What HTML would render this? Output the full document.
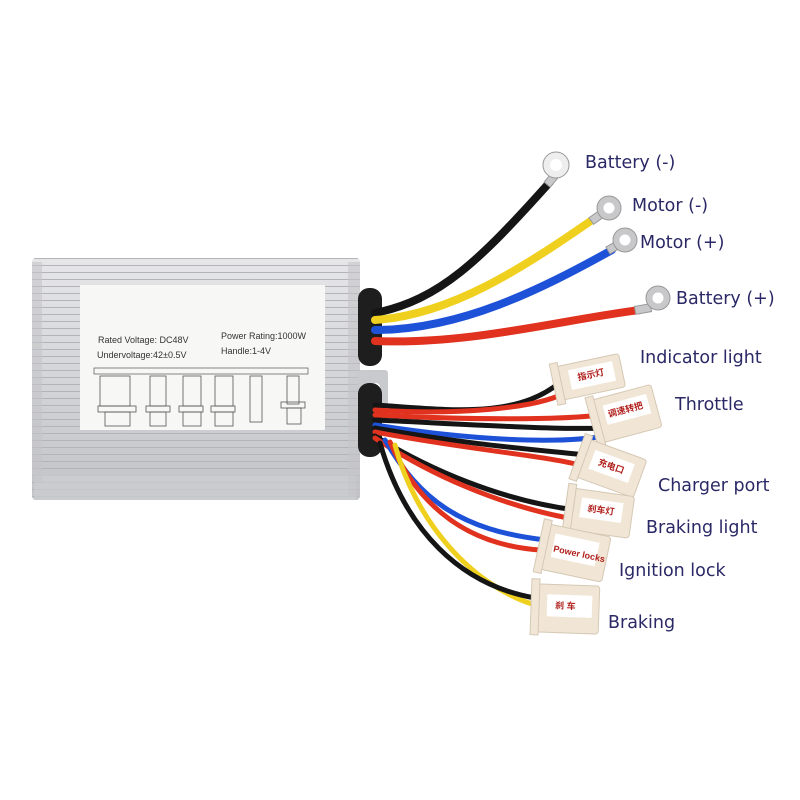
<!DOCTYPE html>
<html><head><meta charset="utf-8"><style>
html,body{margin:0;padding:0;background:#fff}
svg{display:block}
.t{font-family:"DejaVu Sans","Liberation Sans",sans-serif;fill:#2a2966;font-size:17.5px}
.s{font-family:"Liberation Sans",sans-serif;fill:#333;font-size:9px}
.c{font-family:"Liberation Sans","Noto Sans CJK SC",sans-serif;fill:#b0201c;font-size:9px;font-weight:bold}
</style></head><body>
<svg width="800" height="800" viewBox="0 0 800 800">
<defs>
<linearGradient id="al" x1="0" y1="0" x2="0" y2="1">
<stop offset="0" stop-color="#e6e6e8"/><stop offset="0.5" stop-color="#d4d5d8"/><stop offset="1" stop-color="#c2c3c6"/>
</linearGradient>
<pattern id="fin" width="8" height="7" patternUnits="userSpaceOnUse">
<rect width="8" height="7" fill="none"/><line x1="0" y1="6.5" x2="8" y2="6.5" stroke="#b3b4b8" stroke-width="1"/>
</pattern>
</defs>
<rect x="32" y="258" width="328" height="242" rx="4" fill="url(#al)"/>
<rect x="32" y="258" width="328" height="242" rx="4" fill="url(#fin)"/>
<rect x="34" y="475" width="322" height="25" fill="#cfd0d3" opacity="0.6"/>
<rect x="32" y="262" width="10" height="220" fill="#c4c5c8" opacity="0.6"/>
<rect x="348" y="262" width="12" height="235" fill="#c4c5c8" opacity="0.6"/>
<rect x="80" y="285" width="245" height="145" fill="#f7f7f5"/>
<text class="s" x="98" y="343" font-size="10.5">Rated Voltage: DC48V</text>
<text class="s" x="97" y="358" font-size="10.5">Undervoltage:42±0.5V</text>
<text class="s" x="221" y="339" font-size="10.5">Power Rating:1000W</text>
<text class="s" x="221" y="354" font-size="10.5">Handle:1-4V</text>
<rect x="94" y="368" width="214" height="6" fill="none" stroke="#555" stroke-width="0.7"/>
<g fill="none" stroke="#555" stroke-width="0.8">
<rect x="100" y="376" width="30" height="30"/><rect x="98" y="406" width="38" height="6"/><rect x="105" y="412" width="25" height="14"/>
<rect x="150" y="376" width="16" height="30"/><rect x="146" y="406" width="24" height="6"/><rect x="150" y="412" width="16" height="14"/>
<rect x="183" y="376" width="18" height="30"/><rect x="179" y="406" width="24" height="6"/><rect x="183" y="412" width="18" height="14"/>
<rect x="215" y="376" width="18" height="30"/><rect x="211" y="406" width="24" height="6"/><rect x="215" y="412" width="18" height="14"/>
<rect x="250" y="376" width="12" height="46"/>
<rect x="287" y="376" width="12" height="28"/><rect x="281" y="402" width="24" height="6"/><rect x="287" y="408" width="14" height="16"/>
</g>
<rect x="358" y="370" width="30" height="40" fill="#c9cacd" rx="3"/>
<rect x="368" y="383" width="12" height="8" rx="4" fill="#fff"/>
<rect x="358" y="288" width="24" height="78" rx="11" fill="#1e1e1e"/>
<rect x="358" y="383" width="24" height="74" rx="11" fill="#1e1e1e"/>
<g fill="none" stroke-linecap="round" stroke-width="8">
<path d="M375,313 C440,300 480,260 550,182" stroke="#151515"/>
<path d="M375,320 C450,315 520,270 595,218" stroke="#f0d01e"/>
<path d="M375,330 C460,330 540,290 612,250" stroke="#1d52d8"/>
<path d="M375,341 C470,345 560,320 640,310" stroke="#e0321e"/>
</g>
<g fill="#c8c8ca" stroke="#999" stroke-width="1">
<rect x="545" y="176" width="12" height="8" transform="rotate(-50 551 180)"/>
<circle cx="556" cy="165" r="13" fill="#eee"/>
<rect x="590" y="213" width="14" height="8" transform="rotate(-35 597 217)"/>
<circle cx="609" cy="208" r="12"/>
<rect x="607" y="243" width="14" height="8" transform="rotate(-30 614 247)"/>
<circle cx="625" cy="240" r="12"/>
<rect x="635" y="305" width="16" height="8" transform="rotate(-10 643 309)"/>
<circle cx="658" cy="298" r="12"/>
</g>
<g fill="#fff"><circle cx="556" cy="165" r="6"/><circle cx="609" cy="208" r="5.5"/><circle cx="625" cy="240" r="5.5"/><circle cx="658" cy="298" r="5.5"/></g>
<g fill="none" stroke-linecap="round" stroke-width="5">
<path d="M375,405 C450,410 520,420 565,378" stroke="#151515"/>
<path d="M375,410 C450,415 540,410 570,390" stroke="#e0321e"/>
<path d="M375,415 C470,420 560,420 600,415" stroke="#e0321e"/>
<path d="M375,420 C480,425 560,430 605,428" stroke="#151515"/>
<path d="M375,425 C470,440 560,445 610,435" stroke="#1d52d8"/>
<path d="M375,428 C470,445 540,450 585,455" stroke="#151515"/>
<path d="M375,432 C470,450 540,455 580,465" stroke="#e0321e"/>
<path d="M375,436 C430,470 500,500 575,510" stroke="#151515"/>
<path d="M375,438 C430,475 500,505 568,518" stroke="#e0321e"/>
<path d="M385,440 C420,500 460,530 545,540" stroke="#1d52d8"/>
<path d="M390,442 C420,510 470,545 540,550" stroke="#e0321e"/>
<path d="M395,445 C415,520 470,585 535,605" stroke="#f0d01e"/>
<path d="M380,443 C405,530 460,585 535,598" stroke="#151515"/>
</g>
<g fill="#f1e6d6" stroke="#d5c8b4" stroke-width="1">
<g transform="rotate(-12 590 378)"><rect x="558" y="360" width="65" height="34" rx="3"/><rect x="553" y="356" width="8" height="42"/><rect x="570" y="366" width="45" height="20" fill="#fff" stroke="none"/><text class="c" x="578" y="378" stroke="none">指示灯</text></g>
<g transform="rotate(-15 625 412)"><rect x="595" y="392" width="62" height="44" rx="3"/><rect x="590" y="388" width="8" height="52"/><rect x="605" y="400" width="45" height="20" fill="#fff" stroke="none"/><text class="c" x="608" y="413" stroke="none">调速转把</text></g>
<g transform="rotate(20 610 468)"><rect x="580" y="448" width="62" height="40" rx="3"/><rect x="575" y="444" width="8" height="48"/><rect x="590" y="456" width="42" height="20" fill="#fff" stroke="none"/><text class="c" x="597" y="469" stroke="none">充电口</text></g>
<g transform="rotate(8 600 513)"><rect x="570" y="492" width="62" height="42" rx="3"/><rect x="565" y="488" width="8" height="50"/><rect x="580" y="500" width="42" height="20" fill="#fff" stroke="none"/><text class="c" x="587" y="513" stroke="none">刹车灯</text></g>
<g transform="rotate(12 575 553)"><rect x="543" y="530" width="64" height="46" rx="3"/><rect x="538" y="526" width="8" height="54"/><rect x="552" y="538" width="45" height="24" fill="#fff" stroke="none"/><text class="c" x="553" y="556" stroke="none" font-size="8">Power locks</text></g>
<g transform="rotate(2 568 608)"><rect x="537" y="585" width="62" height="48" rx="3"/><rect x="531" y="580" width="8" height="56"/><rect x="547" y="595" width="45" height="22" fill="#fff" stroke="none"/><text class="c" x="555" y="609" stroke="none">刹 车</text></g>
</g>
<text class="t" x="585" y="168">Battery (-)</text>
<text class="t" x="632" y="211">Motor (-)</text>
<text class="t" x="640" y="248">Motor (+)</text>
<text class="t" x="676" y="304">Battery (+)</text>
<text class="t" x="640" y="363">Indicator light</text>
<text class="t" x="675" y="410">Throttle</text>
<text class="t" x="658" y="491">Charger port</text>
<text class="t" x="646" y="533">Braking light</text>
<text class="t" x="619" y="576">Ignition lock</text>
<text class="t" x="608" y="628">Braking</text>
</svg>
</body></html>
